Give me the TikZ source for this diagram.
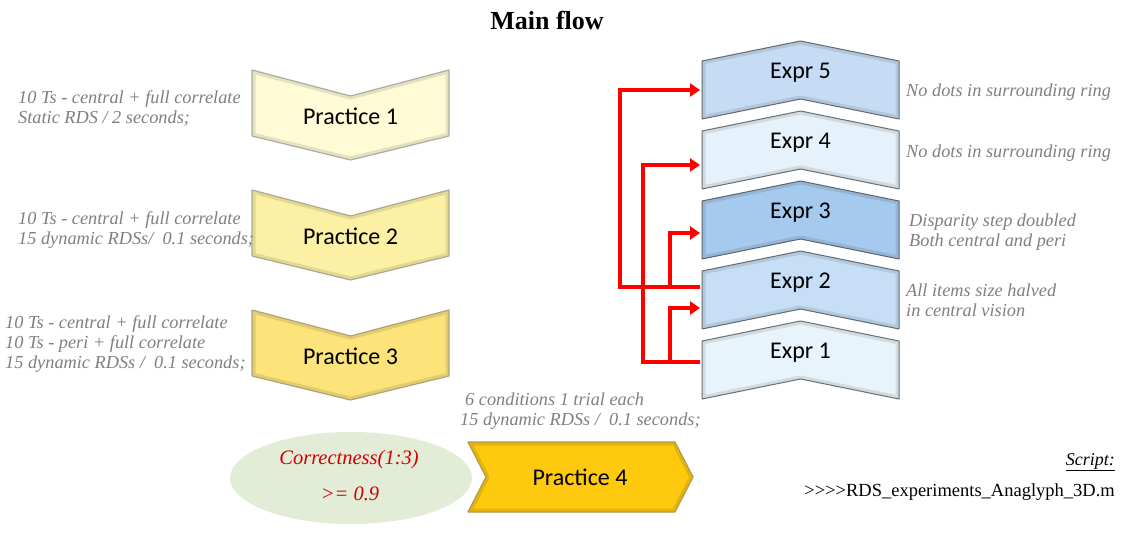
\documentclass[tikz,border=0pt]{standalone}
\usepackage{fontspec}
\setmainfont{Liberation Serif}
\newfontfamily\calibri{Carlito}
\usetikzlibrary{arrows.meta,shapes.geometric}

\definecolor{notegray}{HTML}{7F7F7F}
\definecolor{pone}{HTML}{FEFBD6}
\definecolor{ptwo}{HTML}{FCF0A4}
\definecolor{pthree}{HTML}{FCE37A}
\definecolor{pfour}{HTML}{FFC90E}
\definecolor{eone}{HTML}{E8F4FC}
\definecolor{etwo}{HTML}{C6DFF6}
\definecolor{ethree}{HTML}{A6CAEE}
\definecolor{efour}{HTML}{E6F2FB}
\definecolor{efive}{HTML}{C6DCF4}
\definecolor{critfill}{HTML}{E3ECD7}
\definecolor{critred}{HTML}{D00000}

\tikzset{
	note/.style = {anchor=west, align=left, inner sep=0pt, text=notegray, font=\fontsize{18.3}{20}\selectfont\itshape},
	lbl/.style = {inner sep=0pt, font=\calibri\fontsize{24}{28}\selectfont},
	practice/.style = {draw=#1!55!black!70, line width=1.2pt, line join=round, fill=#1},
	expr/.style = {draw=#1!30!black!80, line width=1pt, line join=round, fill=#1},
	bevel/.style = {draw=#1!60!black, line width=7pt, opacity=0.25, line join=round},
	link/.style = {draw=red, line width=4pt, line join=miter, -{Triangle[length=10pt,width=13pt]}},
}

\begin{document}
\begin{tikzpicture}[x=1pt,y=-1pt]
	\useasboundingbox (0,0) rectangle (1121,534);
	\node [font=\fontsize{26}{30}\selectfont\bfseries] (title) at (547,20) {Main flow};

	% practice chevrons, pointing down
	\foreach \k/\c in {1/pone,2/ptwo,3/pthree} {
		\pgfmathsetmacro{\t}{70+120*(\k-1)}
		\fill [\c] (252,\t) -- (350.5,\t+26) -- (449,\t) -- (449,\t+66) -- (350.5,\t+90) -- (252,\t+66) -- cycle;
		\begin{scope}
			\clip (252,\t) -- (350.5,\t+26) -- (449,\t) -- (449,\t+66) -- (350.5,\t+90) -- (252,\t+66) -- cycle;
			\draw [bevel=\c] (252,\t) -- (350.5,\t+26) -- (449,\t) -- (449,\t+66) -- (350.5,\t+90) -- (252,\t+66) -- cycle;
		\end{scope}
		\draw [practice=\c, fill=none] (252,\t) -- (350.5,\t+26) -- (449,\t) -- (449,\t+66) -- (350.5,\t+90) -- (252,\t+66) -- cycle;
		\node [lbl] (p\k) at (350.5,\t+46) {Practice \k};
	}
	\fill [pfour] (468,442) -- (675,442) -- (693,477) -- (675,512) -- (468,512) -- (486,477) -- cycle;
	\begin{scope}
		\clip (468,442) -- (675,442) -- (693,477) -- (675,512) -- (468,512) -- (486,477) -- cycle;
		\draw [bevel=pfour] (468,442) -- (675,442) -- (693,477) -- (675,512) -- (468,512) -- (486,477) -- cycle;
	\end{scope}
	\draw [practice=pfour, fill=none] (468,442) -- (675,442) -- (693,477) -- (675,512) -- (468,512) -- (486,477) -- cycle;
	\node [lbl] (p4) at (580,477) {Practice 4};

	% expr chevrons, pointing up
	\foreach \k/\c in {1/eone,2/etwo,3/ethree,4/efour,5/efive} {
		\pgfmathsetmacro{\t}{341-70*(\k-1)}
		\fill [\c] (702,\t) -- (800.5,\t-20) -- (899,\t) -- (899,\t+58) -- (800.5,\t+38) -- (702,\t+58) -- cycle;
		\begin{scope}
			\clip (702,\t) -- (800.5,\t-20) -- (899,\t) -- (899,\t+58) -- (800.5,\t+38) -- (702,\t+58) -- cycle;
			\draw [bevel=\c] (702,\t) -- (800.5,\t-20) -- (899,\t) -- (899,\t+58) -- (800.5,\t+38) -- (702,\t+58) -- cycle;
		\end{scope}
		\draw [expr=\c, fill=none] (702,\t) -- (800.5,\t-20) -- (899,\t) -- (899,\t+58) -- (800.5,\t+38) -- (702,\t+58) -- cycle;
		\node [lbl] (e\k) at (800.5,\t+12) {Expr \k};
	}

	% where the red links meet the boxes
	\coordinate (e1out) at (700,362);
	\coordinate (e2out) at (700,287);
	\coordinate (e2in) at (700,308);
	\coordinate (e3in) at (700,233);
	\coordinate (e4in) at (700,165);
	\coordinate (e5in) at (700,90);
	\draw [link] (e2out) -- ++(-80,0) |- (e5in);
	\draw [link] (e1out) -- ++(-57,0) |- (e4in);
	\draw [link] (e2out) -- ++(-30,0) |- (e3in);
	\draw [link] (e1out) -- ++(-30,0) |- (e2in);

	% notes
	\node [note] (n1) at (18,108) {10 Ts - central + full correlate\\Static RDS / 2 seconds;};
	\node [note] (n2) at (18,230) {10 Ts - central + full correlate\\15 dynamic RDSs/ \ 0.1 seconds;};
	\node [note] (n3) at (5,344) {10 Ts - central + full correlate\\10 Ts - peri + full correlate\\15 dynamic RDSs / \ 0.1 seconds;};
	\node [note] (n4) at (460,411) {\hspace*{5pt}6 conditions 1 trial each\\15 dynamic RDSs / \ 0.1 seconds;};
	\node [note] (n5) at (906,92) {No dots in surrounding ring};
	\node [note] (n6) at (906,153) {No dots in surrounding ring};
	\node [note] (n7) at (909,232) {Disparity step doubled\\Both central and peri};
	\node [note] (n8) at (906,300) {All items size halved\\in central vision};

	% criterion
	\node [ellipse, fill=critfill, minimum width=242pt, minimum height=92pt] (crit) at (351,478) {};
	\node [text=critred, font=\fontsize{20.5}{24}\selectfont\itshape] (crita) at (349,460) {Correctness(1:3)};
	\node [text=critred, font=\fontsize{20.5}{24}\selectfont\itshape] (critb) at (350,494) {>= 0.9};

	% script
	\node [anchor=east, inner sep=0pt, font=\fontsize{18}{22}\selectfont\itshape] (scr) at (1115,462) {\underline{Script:}};
	\node [anchor=east, inner sep=0pt, font=\fontsize{18.5}{22}\selectfont] (scrname) at (1115,492) {>{}>{}>{}>RDS\_experiments\_Anaglyph\_3D.m};
\end{tikzpicture}
\end{document}
